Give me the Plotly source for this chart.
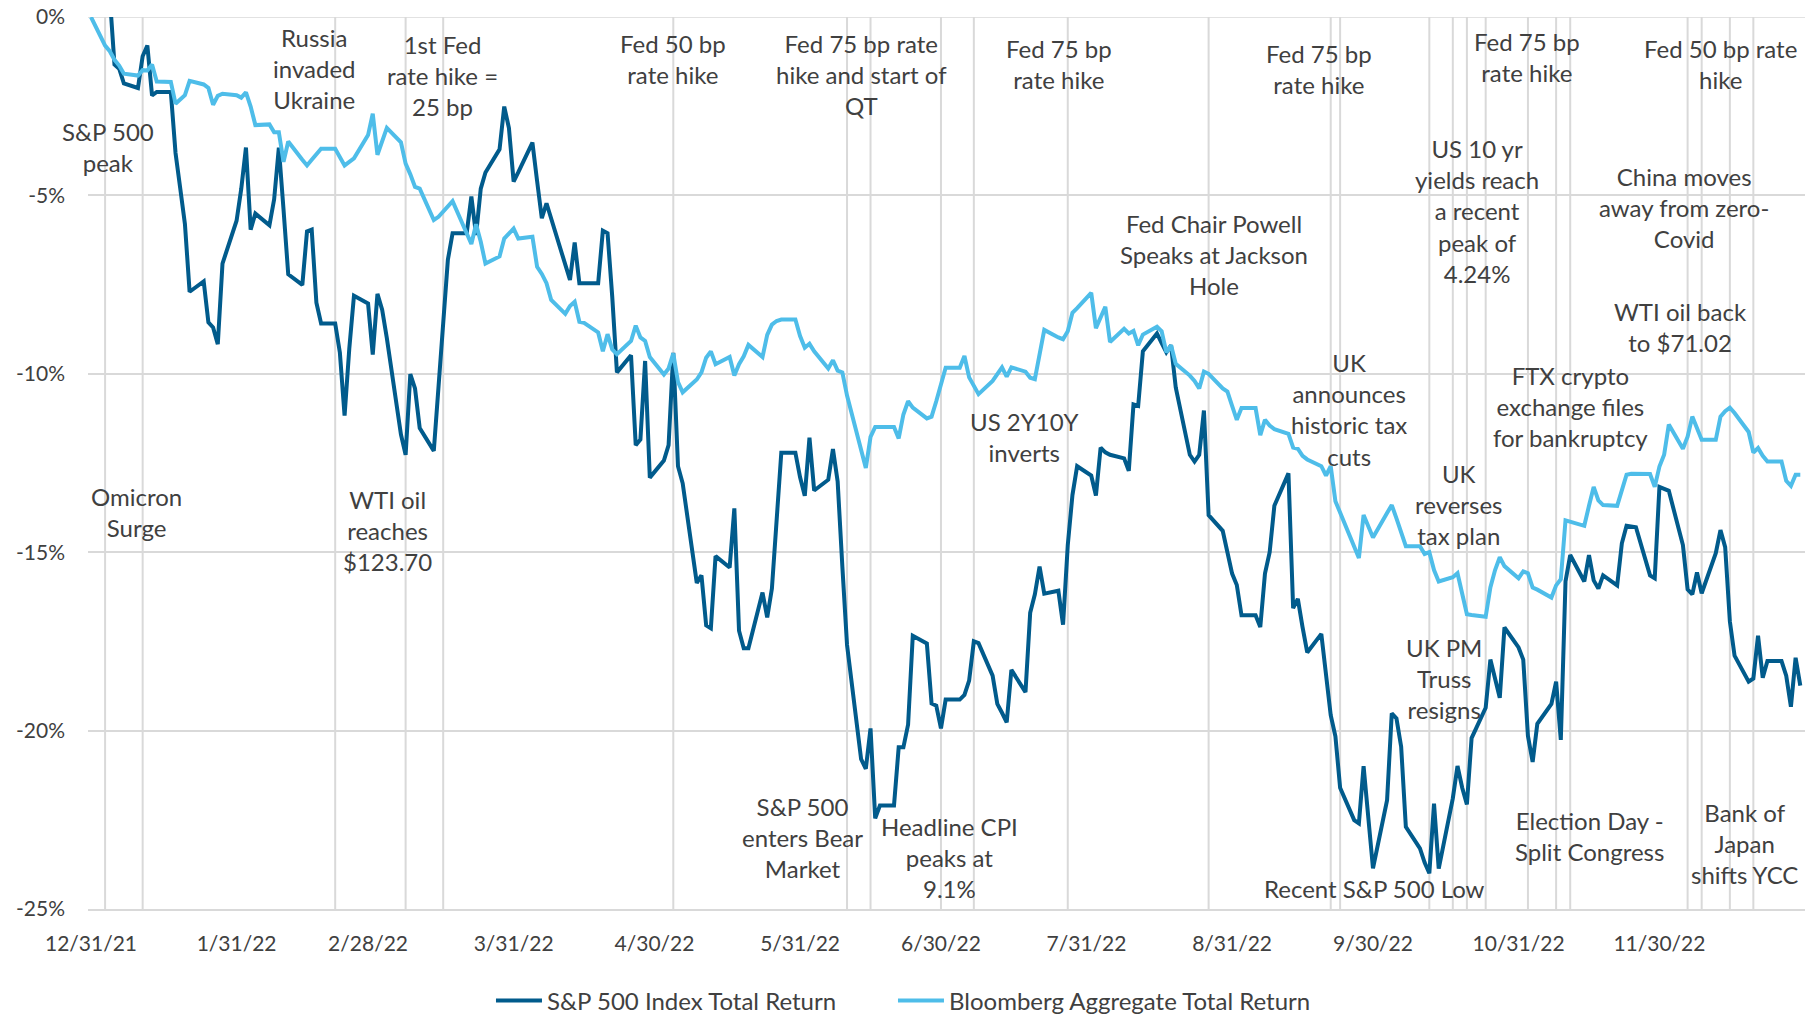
import plotly.graph_objects as go

# ---------------- data ----------------
sp_dates = [
    "2022-01-03", "2022-01-04", "2022-01-05", "2022-01-06", "2022-01-07", "2022-01-10", "2022-01-11", "2022-01-12",
    "2022-01-13", "2022-01-14", "2022-01-17", "2022-01-18", "2022-01-19", "2022-01-20", "2022-01-21", "2022-01-24",
    "2022-01-25", "2022-01-26", "2022-01-27", "2022-01-28", "2022-01-31", "2022-02-01", "2022-02-02", "2022-02-03",
    "2022-02-04", "2022-02-07", "2022-02-08", "2022-02-09", "2022-02-10", "2022-02-11", "2022-02-14", "2022-02-15",
    "2022-02-16", "2022-02-17", "2022-02-18", "2022-02-21", "2022-02-22", "2022-02-23", "2022-02-24", "2022-02-25",
    "2022-02-28", "2022-03-01", "2022-03-02", "2022-03-03", "2022-03-04", "2022-03-07", "2022-03-08", "2022-03-09",
    "2022-03-10", "2022-03-11", "2022-03-14", "2022-03-15", "2022-03-16", "2022-03-17", "2022-03-18", "2022-03-21",
    "2022-03-22", "2022-03-23", "2022-03-24", "2022-03-25", "2022-03-28", "2022-03-29", "2022-03-30", "2022-03-31",
    "2022-04-01", "2022-04-04", "2022-04-05", "2022-04-06", "2022-04-07", "2022-04-08", "2022-04-11", "2022-04-12",
    "2022-04-13", "2022-04-14", "2022-04-15", "2022-04-18", "2022-04-19", "2022-04-20", "2022-04-21", "2022-04-22",
    "2022-04-25", "2022-04-26", "2022-04-27", "2022-04-28", "2022-04-29", "2022-05-02", "2022-05-03", "2022-05-04",
    "2022-05-05", "2022-05-06", "2022-05-09", "2022-05-10", "2022-05-11", "2022-05-12", "2022-05-13", "2022-05-16",
    "2022-05-17", "2022-05-18", "2022-05-19", "2022-05-20", "2022-05-23", "2022-05-24", "2022-05-25", "2022-05-26",
    "2022-05-27", "2022-05-30", "2022-05-31", "2022-06-01", "2022-06-02", "2022-06-03", "2022-06-06", "2022-06-07",
    "2022-06-08", "2022-06-09", "2022-06-10", "2022-06-13", "2022-06-14", "2022-06-15", "2022-06-16", "2022-06-17",
    "2022-06-20", "2022-06-21", "2022-06-22", "2022-06-23", "2022-06-24", "2022-06-27", "2022-06-28", "2022-06-29",
    "2022-06-30", "2022-07-01", "2022-07-04", "2022-07-05", "2022-07-06", "2022-07-07", "2022-07-08", "2022-07-11",
    "2022-07-12", "2022-07-13", "2022-07-14", "2022-07-15", "2022-07-18", "2022-07-19", "2022-07-20", "2022-07-21",
    "2022-07-22", "2022-07-25", "2022-07-26", "2022-07-27", "2022-07-28", "2022-07-29", "2022-08-01", "2022-08-02",
    "2022-08-03", "2022-08-04", "2022-08-05", "2022-08-08", "2022-08-09", "2022-08-10", "2022-08-11", "2022-08-12",
    "2022-08-15", "2022-08-16", "2022-08-17", "2022-08-18", "2022-08-19", "2022-08-22", "2022-08-23", "2022-08-24",
    "2022-08-25", "2022-08-26", "2022-08-29", "2022-08-30", "2022-08-31", "2022-09-01", "2022-09-02", "2022-09-05",
    "2022-09-06", "2022-09-07", "2022-09-08", "2022-09-09", "2022-09-12", "2022-09-13", "2022-09-14", "2022-09-15",
    "2022-09-16", "2022-09-19", "2022-09-20", "2022-09-21", "2022-09-22", "2022-09-23", "2022-09-26", "2022-09-27",
    "2022-09-28", "2022-09-29", "2022-09-30", "2022-10-03", "2022-10-04", "2022-10-05", "2022-10-06", "2022-10-07",
    "2022-10-10", "2022-10-11", "2022-10-12", "2022-10-13", "2022-10-14", "2022-10-17", "2022-10-18", "2022-10-19",
    "2022-10-20", "2022-10-21", "2022-10-24", "2022-10-25", "2022-10-26", "2022-10-27", "2022-10-28", "2022-10-31",
    "2022-11-01", "2022-11-02", "2022-11-03", "2022-11-04", "2022-11-07", "2022-11-08", "2022-11-09", "2022-11-10",
    "2022-11-11", "2022-11-14", "2022-11-15", "2022-11-16", "2022-11-17", "2022-11-18", "2022-11-21", "2022-11-22",
    "2022-11-23", "2022-11-24", "2022-11-25", "2022-11-28", "2022-11-29", "2022-11-30", "2022-12-01", "2022-12-02",
    "2022-12-05", "2022-12-06", "2022-12-07", "2022-12-08", "2022-12-09", "2022-12-12", "2022-12-13", "2022-12-14",
    "2022-12-15", "2022-12-16", "2022-12-19", "2022-12-20", "2022-12-21", "2022-12-22", "2022-12-23", "2022-12-26",
    "2022-12-27", "2022-12-28", "2022-12-29", "2022-12-30",
]
sp_values = [
    0.64, 0.58, -1.33, -1.45, -1.86, -1.99, -1.10, -0.80,
    -2.20, -2.10, -2.10, -3.81, -4.80, -5.80, -7.70, -7.41,
    -8.56, -8.70, -9.17, -6.91, -5.71, -4.81, -3.66, -5.96,
    -5.51, -5.84, -5.11, -3.66, -5.40, -7.21, -7.51, -6.01,
    -5.96, -8.01, -8.59, -8.59, -9.41, -11.17, -9.30, -7.81,
    -8.03, -9.46, -7.76, -8.20, -9.00, -11.70, -12.27, -10.01,
    -10.41, -11.52, -12.16, -10.40, -8.30, -6.80, -6.06, -6.06,
    -5.03, -6.11, -4.81, -4.36, -3.71, -2.51, -3.11, -4.61,
    -4.35, -3.52, -4.60, -5.64, -5.22, -5.66, -7.00, -7.37,
    -6.32, -7.46, -7.46, -7.46, -5.99, -6.06, -7.84, -9.96,
    -9.48, -12.00, -11.84, -9.64, -12.91, -12.43, -12.00, -9.41,
    -12.59, -13.07, -15.86, -15.65, -17.05, -17.13, -15.11, -15.43,
    -13.77, -17.20, -17.69, -17.69, -16.13, -16.83, -16.02, -14.25,
    -12.21, -12.21, -12.90, -13.42, -11.79, -13.27, -12.97, -12.11,
    -13.02, -15.40, -17.60, -20.80, -21.07, -19.94, -22.46, -22.10,
    -22.10, -20.47, -20.47, -19.83, -17.34, -17.56, -19.24, -19.30,
    -19.94, -19.13, -19.13, -19.00, -18.60, -17.50, -17.55, -18.46,
    -19.25, -19.50, -19.77, -18.30, -18.92, -16.70, -16.18, -15.40,
    -16.16, -16.08, -17.03, -14.81, -13.40, -12.59, -12.85, -13.41,
    -12.07, -12.20, -12.27, -12.37, -12.72, -10.86, -10.90, -9.37,
    -8.87, -9.14, -9.40, -9.20, -10.38, -12.27, -12.46, -12.27,
    -11.03, -13.96, -14.40, -15.00, -15.60, -15.92, -16.77, -16.77,
    -17.10, -15.60, -15.00, -13.70, -12.79, -16.57, -16.31, -17.10,
    -17.81, -17.29, -18.40, -19.57, -20.16, -21.60, -22.51, -22.60,
    -21.00, -22.40, -23.86, -21.95, -19.52, -19.66, -20.45, -22.70,
    -23.30, -23.70, -24.00, -22.05, -23.87, -21.90, -20.99, -21.60,
    -22.07, -20.21, -19.36, -18.01, -18.60, -19.08, -17.11, -17.67,
    -18.01, -20.15, -20.88, -19.81, -19.25, -18.63, -20.26, -15.82,
    -15.08, -15.82, -15.08, -15.79, -16.02, -15.65, -15.93, -14.75,
    -14.26, -14.28, -14.30, -15.65, -15.73, -13.17, -13.22, -13.28,
    -14.80, -16.04, -16.18, -15.57, -16.15, -15.03, -14.38, -14.86,
    -16.94, -17.90, -18.63, -18.54, -17.34, -18.52, -18.05, -18.05,
    -18.46, -19.33, -17.96, -18.74,
]

agg_dates = ["2021-12-31"] + sp_dates
agg_values = [
    0.00,
    -0.80, -0.96, -1.20, -1.36, -1.59, -1.64, -1.49, -1.50,
    -1.33, -1.81, -1.82, -2.43, -2.30, -2.19, -1.79, -1.89,
    -1.99, -2.46, -2.21, -2.15, -2.19, -2.26, -2.11, -2.51,
    -3.03, -3.01, -3.23, -3.23, -4.06, -3.49, -4.00, -4.16,
    -4.00, -3.85, -3.69, -3.69, -3.90, -4.16, -4.06, -3.96,
    -3.31, -2.71, -3.86, -3.50, -3.11, -3.51, -4.11, -4.41,
    -4.76, -4.81, -5.69, -5.60, -5.46, -5.30, -5.16, -6.06,
    -6.36, -5.81, -6.30, -6.91, -6.71, -6.21, -6.05, -5.93,
    -6.21, -6.16, -7.00, -7.20, -7.46, -7.93, -8.32, -8.10,
    -7.98, -8.54, -8.57, -8.84, -9.37, -8.89, -9.32, -9.45,
    -9.08, -8.65, -8.98, -9.08, -9.53, -10.02, -9.85, -9.43,
    -10.23, -10.52, -10.16, -9.96, -9.55, -9.37, -9.73, -9.53,
    -10.05, -9.73, -9.51, -9.19, -9.53, -8.91, -8.62, -8.52,
    -8.48, -8.48, -8.94, -9.27, -9.16, -9.37, -9.85, -9.62,
    -9.91, -9.96, -10.61, -12.20, -12.64, -11.77, -11.49, -11.49,
    -11.49, -11.81, -11.14, -10.77, -10.95, -11.25, -11.20, -10.77,
    -10.29, -9.83, -9.83, -9.50, -10.10, -10.35, -10.57, -10.20,
    -10.00, -9.82, -10.08, -9.82, -9.94, -10.11, -10.15, -9.40,
    -8.77, -8.98, -9.03, -8.81, -8.29, -8.16, -7.73, -8.72,
    -8.40, -8.12, -9.11, -8.74, -8.87, -8.80, -9.20, -8.90,
    -8.68, -8.81, -9.40, -9.20, -9.72, -10.05, -10.20, -10.41,
    -9.94, -10.00, -10.41, -10.50, -10.90, -11.29, -10.96, -10.96,
    -11.72, -11.29, -11.45, -11.55, -11.68, -12.07, -12.10, -12.30,
    -12.40, -12.59, -12.85, -12.59, -13.57, -13.90, -14.90, -15.16,
    -13.96, -14.30, -14.59, -13.90, -13.68, -14.05, -14.45, -14.83,
    -14.83, -15.05, -15.00, -15.50, -15.82, -15.70, -15.59, -16.20,
    -16.74, -16.76, -16.81, -15.99, -15.50, -15.14, -15.39, -15.73,
    -15.54, -15.59, -15.99, -16.05, -16.27, -15.93, -15.76, -14.11,
    -14.15, -14.26, -13.70, -13.17, -13.55, -13.68, -13.70, -13.30,
    -12.83, -12.80, -12.80, -12.81, -13.17, -12.60, -12.27, -11.42,
    -12.10, -11.76, -11.20, -11.50, -11.85, -11.85, -11.20, -11.05,
    -10.95, -11.10, -11.63, -12.21, -12.08, -12.30, -12.46, -12.46,
    -13.00, -13.14, -12.83, -12.83,
]

event_dates = [
    "2022-01-03", "2022-01-11", "2022-02-21", "2022-03-08", "2022-03-16", "2022-05-04",
    "2022-06-10", "2022-06-15", "2022-06-30", "2022-07-07", "2022-07-27", "2022-08-26",
    "2022-09-21", "2022-09-23", "2022-10-12", "2022-10-17", "2022-10-20", "2022-10-24",
    "2022-11-02", "2022-11-08", "2022-11-11", "2022-12-06", "2022-12-09", "2022-12-15",
    "2022-12-20",
]

x_tick_dates = ["2021-12-31", "2022-01-31", "2022-02-28", "2022-03-31", "2022-04-30", "2022-05-31",
                "2022-06-30", "2022-07-31", "2022-08-31", "2022-09-30", "2022-10-31", "2022-11-30"]
x_tick_labels = ["12/31/21", "1/31/22", "2/28/22", "3/31/22", "4/30/22", "5/31/22",
                 "6/30/22", "7/31/22", "8/31/22", "9/30/22", "10/31/22", "11/30/22"]
y_tick_values = [0, -5, -10, -15, -20, -25]
y_tick_labels = ["0%", "-5%", "-10%", "-15%", "-20%", "-25%"]

series_names = ["S&P 500 Index Total Return", "Bloomberg Aggregate Total Return"]

annotation_texts = [
    "S&P 500<br>peak",
    "Omicron<br>Surge",
    "Russia<br>invaded<br>Ukraine",
    "1st Fed<br>rate hike =<br>25 bp",
    "WTI oil<br>reaches<br>$123.70",
    "Fed 50 bp<br>rate hike",
    "Fed 75 bp rate<br>hike and start of<br>QT",
    "S&P 500<br>enters Bear<br>Market",
    "Headline CPI<br>peaks at<br>9.1%",
    "US 2Y10Y<br>inverts",
    "Fed 75 bp<br>rate hike",
    "Fed Chair Powell<br>Speaks at Jackson<br>Hole",
    "Fed 75 bp<br>rate hike",
    "UK<br>announces<br>historic tax<br>cuts",
    "Recent S&P 500 Low",
    "US 10 yr<br>yields reach<br>a recent<br>peak of<br>4.24%",
    "Fed 75 bp<br>rate hike",
    "UK<br>reverses<br>tax plan",
    "UK PM<br>Truss<br>resigns",
    "FTX crypto<br>exchange files<br>for bankruptcy",
    "Election Day -<br>Split Congress",
    "China moves<br>away from zero-<br>Covid",
    "WTI oil back<br>to $71.02",
    "Fed 50 bp rate<br>hike",
    "Bank of<br>Japan<br>shifts YCC",
]
# label centres in paper coordinates (layout, not data)
annotation_positions = [
    (0.0116, 0.854), (0.0284, 0.445), (0.1318, 0.942), (0.2066, 0.934), (0.1743, 0.424),
    (0.3405, 0.953), (0.4506, 0.936), (0.4161, 0.080), (0.5020, 0.058), (0.5457, 0.529),
    (0.5655, 0.947), (0.6558, 0.734), (0.7171, 0.942), (0.7344, 0.560), (0.7491, 0.023),
    (0.8090, 0.782), (0.8378, 0.955), (0.7985, 0.454), (0.7897, 0.258), (0.8637, 0.563),
    (0.8742, 0.082), (0.9297, 0.786), (0.9276, 0.653), (0.9505, 0.947), (0.9650, 0.073),
]

# ---------------- styling ----------------
FONT = "Lato, 'Open Sans', sans-serif"
TEXT = "#404040"
GRID = "#d9d9d9"
DARK = "#015b8c"
LIGHT = "#4ebde9"

fig = go.Figure()
fig.add_trace(go.Scatter(x=sp_dates, y=sp_values, mode="lines", name=series_names[0],
                         line=dict(color=DARK, width=4), legendwidth=341))
fig.add_trace(go.Scatter(x=agg_dates, y=agg_values, mode="lines", name=series_names[1],
                         line=dict(color=LIGHT, width=4), legendwidth=420))

shapes = [dict(type="line", xref="x", yref="paper", x0=d, x1=d, y0=0, y1=1,
               line=dict(color=GRID, width=2), layer="below") for d in event_dates]
# top (0%) gridline
shapes.append(dict(type="line", xref="paper", yref="y", x0=0, x1=1, y0=y_tick_values[0], y1=y_tick_values[0],
                   line=dict(color=GRID, width=1.5), layer="below"))

annotations = [dict(text=t, x=p[0], y=p[1], xref="paper", yref="paper", showarrow=False,
                    xanchor="center", yanchor="middle", align="center",
                    font=dict(family=FONT, size=24, color=TEXT))
               for t, p in zip(annotation_texts, annotation_positions)]

fig.update_layout(
    width=1805, height=1016, autosize=False,
    margin=dict(l=88, r=0, t=17, b=107, autoexpand=False),
    paper_bgcolor="white", plot_bgcolor="white",
    font=dict(family=FONT, color=TEXT, size=21),
    shapes=shapes, annotations=annotations,
    showlegend=True,
    legend=dict(orientation="h", x=0.2347, y=-0.103, xanchor="left", yanchor="middle",
                itemwidth=46,
                font=dict(family=FONT, size=24, color=TEXT), bgcolor="rgba(0,0,0,0)"),
    xaxis=dict(type="date", range=["2021-12-30 08:40", "2022-12-31 00:00"],
               tickmode="array", tickvals=x_tick_dates, ticktext=x_tick_labels,
               showgrid=False, zeroline=False, showline=True, linecolor=GRID, linewidth=1.5,
               ticks="", ticklabelstandoff=15, automargin=False, tickfont=dict(size=21, color=TEXT)),
    yaxis=dict(range=[-25, 0], tickmode="array", tickvals=y_tick_values, ticktext=y_tick_labels,
               showgrid=True, gridcolor=GRID, gridwidth=1.5, zeroline=False, showline=False,
               ticks="", ticklabelstandoff=22, ticklabeloverflow="allow", automargin=False,
               tickfont=dict(size=21, color=TEXT)),
)

# remove the default page margin so the 1805x1016 figure fills the window exactly
fig.write_html("out.html",
               config={"displayModeBar": False},
               post_script="document.body.style.margin='0';document.body.style.overflow='hidden';")
